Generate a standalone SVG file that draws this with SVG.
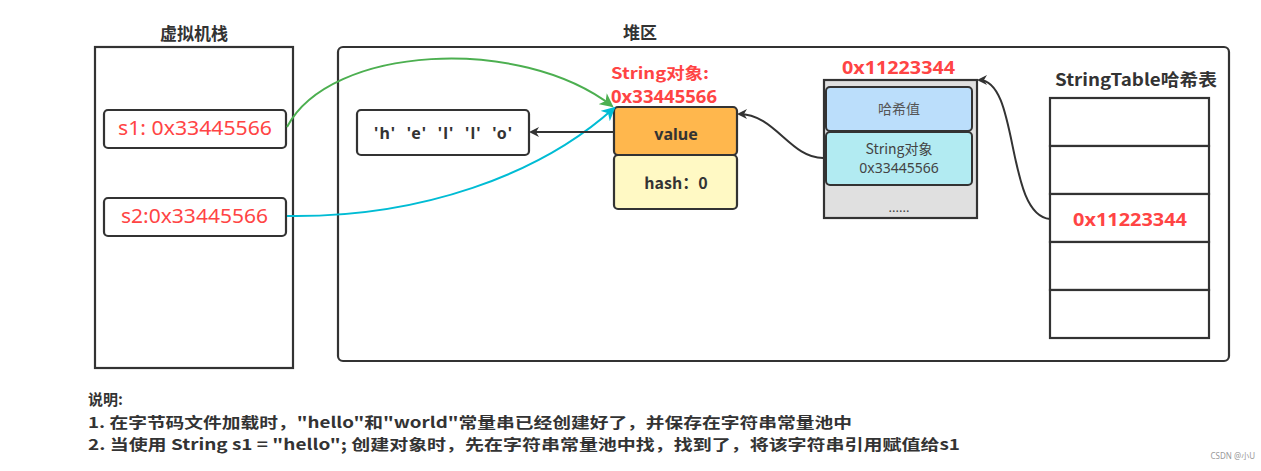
<svg xmlns="http://www.w3.org/2000/svg" width="1261" height="471" viewBox="0 0 1261 471">
<style>
.box{fill:#fff;stroke:#333;stroke-width:2.2}
.cn{font-family:"Noto Sans CJK SC","Noto Sans",sans-serif}
.t{font-family:"Noto Sans","Noto Sans CJK SC",sans-serif}
.title{font-size:17px;font-weight:bold;fill:#333}
.red{fill:#ff4444}
.lbl{font-size:16px;font-weight:bold;fill:#333}
.conn{fill:none;stroke-width:2}
</style>
<defs>
<marker id="ah" markerWidth="10" markerHeight="10" refX="8" refY="5" orient="auto" markerUnits="userSpaceOnUse" viewBox="0 0 10 10"><path d="M0,0 L10,5 L0,10 L3,5 Z" fill="#333"/></marker>
<marker id="ahG" markerWidth="14" markerHeight="14" refX="12" refY="7" orient="auto" markerUnits="userSpaceOnUse" viewBox="0 0 14 14"><path d="M0,0 L14,7 L0,14 L4,7 Z" fill="#4caf50"/></marker>
<marker id="ahC" markerWidth="14" markerHeight="14" refX="12" refY="7" orient="auto" markerUnits="userSpaceOnUse" viewBox="0 0 14 14"><path d="M0,0 L14,7 L0,14 L4,7 Z" fill="#00bcd4"/></marker>
</defs>
<rect width="1261" height="471" fill="#fff"/>

<g id="stack">
<rect class="box" x="95" y="47" width="198" height="321"/>
<text class="cn title" x="194" y="40" text-anchor="middle">虚拟机栈</text>
</g>
<g id="s1">
<rect class="box" x="104" y="110" width="182" height="38" rx="4"/>
<text class="t red" x="118" y="135" font-size="20" textLength="154" lengthAdjust="spacingAndGlyphs">s1: 0x33445566</text>
</g>
<g id="s2">
<rect class="box" x="104" y="198" width="182" height="38" rx="4"/>
<text class="t red" x="121" y="223" font-size="20" textLength="147" lengthAdjust="spacingAndGlyphs">s2:0x33445566</text>
</g>

<g id="heap">
<rect class="box" x="338" y="47" width="891" height="314" rx="5"/>
<text class="cn title" x="640" y="39" text-anchor="middle">堆区</text>
</g>

<g id="chars">
<rect class="box" x="357" y="110" width="172" height="45" rx="4"/>
<text class="t lbl" x="374" y="139" textLength="138" lengthAdjust="spacing" xml:space="preserve">'h'  'e'  'l'  'l'  'o'</text>
</g>

<g id="stringobj">
<text class="cn red" x="611" y="79" font-size="16" font-weight="bold" textLength="98" lengthAdjust="spacingAndGlyphs">String对象:</text>
<text class="t red" x="611" y="103" font-size="17" font-weight="bold" textLength="106" lengthAdjust="spacingAndGlyphs">0x33445566</text>
<rect x="614" y="107" width="123" height="48" rx="4" fill="#ffb74d" stroke="#333" stroke-width="2.2"/>
<text class="t lbl" x="676" y="140" font-size="17" text-anchor="middle">value</text>
<rect x="614" y="155" width="123" height="54" rx="4" fill="#fff9c4" stroke="#333" stroke-width="2.2"/>
<text class="cn lbl" x="676" y="189" text-anchor="middle">hash：0</text>
</g>

<g id="entry">
<text class="t red" x="842" y="74" font-size="18" font-weight="bold" textLength="113" lengthAdjust="spacingAndGlyphs">0x11223344</text>
<rect x="824" y="80" width="153" height="138" fill="#e0e0e0" stroke="#333" stroke-width="2.2"/>
<rect x="826" y="87" width="146" height="44" rx="4" fill="#bbdefb" stroke="#333" stroke-width="2"/>
<text class="cn" x="899" y="114" font-size="14" fill="#555" text-anchor="middle">哈希值</text>
<rect x="826" y="132" width="146" height="53" rx="4" fill="#b2ebf2" stroke="#333" stroke-width="2"/>
<text class="cn" x="899" y="154" font-size="14" fill="#444" text-anchor="middle">String对象</text>
<text class="t" x="899" y="173" font-size="14" fill="#444" text-anchor="middle">0x33445566</text>
<text class="t" x="899" y="212" font-size="13" fill="#444" text-anchor="middle">......</text>
</g>

<g id="stringtable">
<text class="cn title" x="1055" y="86" textLength="162" lengthAdjust="spacingAndGlyphs">StringTable哈希表</text>
<rect class="box" x="1050" y="98" width="159" height="48"/>
<rect class="box" x="1050" y="146" width="159" height="48"/>
<rect class="box" x="1050" y="194" width="159" height="48"/>
<rect class="box" x="1050" y="242" width="159" height="48"/>
<rect class="box" x="1050" y="290" width="159" height="48"/>
<text class="t red" x="1073" y="226" font-size="18" font-weight="bold" textLength="114" lengthAdjust="spacingAndGlyphs">0x11223344</text>
</g>

<g id="connectors">
<path class="conn" d="M287,127 C330,45 520,35 612,106" stroke="#4caf50" marker-end="url(#ahG)"/>
<path class="conn" d="M287,216 C420,218 540,175 614,108" stroke="#00bcd4" marker-end="url(#ahC)"/>
<path class="conn" d="M614,132 L531,132" stroke="#333" marker-end="url(#ah)"/>
<path class="conn" d="M823,158 C790,158 775,114 739,114" stroke="#333" marker-end="url(#ah)"/>
<path class="conn" d="M1050,219 C1005,215 1020,80 979,80" stroke="#333" marker-end="url(#ah)"/>
</g>

<g id="notes">
<text class="cn" x="88" y="405" font-size="15" font-weight="bold" fill="#333">说明:</text>
<text class="cn" x="88" y="428" font-size="15" font-weight="bold" fill="#333" textLength="764" lengthAdjust="spacingAndGlyphs">1. 在字节码文件加载时，"hello"和"world"常量串已经创建好了，并保存在字符串常量池中</text>
<text class="cn" x="88" y="450" font-size="15" font-weight="bold" fill="#333" textLength="872" lengthAdjust="spacingAndGlyphs">2. 当使用 String s1 = "hello"; 创建对象时，先在字符串常量池中找，找到了，将该字符串引用赋值给s1</text>
</g>
<text class="t" x="1255" y="459" font-size="8" fill="#999" text-anchor="end">CSDN @小U</text>
</svg>
